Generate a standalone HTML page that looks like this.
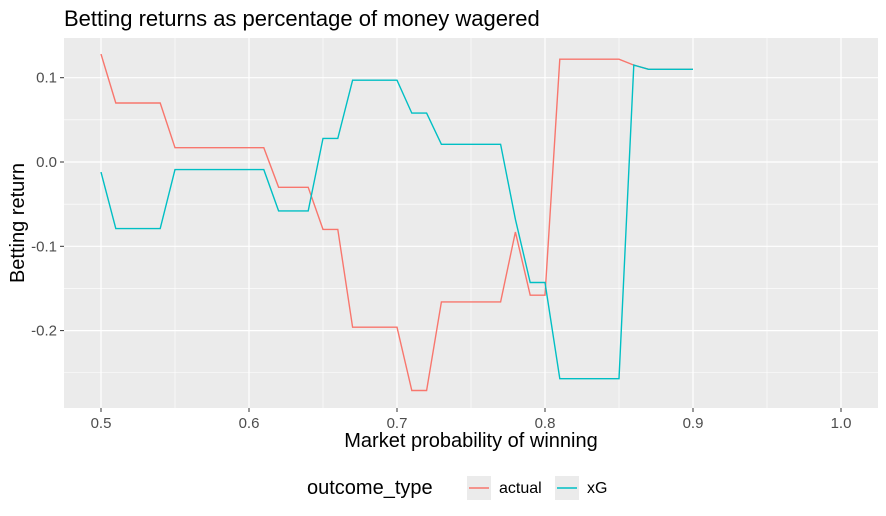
<!DOCTYPE html>
<html><head><meta charset="utf-8"><style>
body{margin:0;background:#fff;}
svg text{font-family:"Liberation Sans",Arial,sans-serif;}
</style></head><body>
<svg id="chart" width="886" height="511" xmlns="http://www.w3.org/2000/svg">
<text x="64" y="26" font-size="22" fill="#000">Betting returns as percentage of money wagered</text>
<rect x="64" y="38" width="814" height="370" fill="#ebebeb"/>
<g id="grid"></g>
<g id="lines"></g>
<g id="axes"></g>
<text x="471" y="447" font-size="20" text-anchor="middle" fill="#000">Market probability of winning</text>
<text transform="translate(24,223) rotate(-90)" font-size="20" text-anchor="middle" fill="#000">Betting return</text>
<g>
<text x="307" y="494" font-size="20" fill="#000">outcome_type</text>
<rect x="467" y="476" width="24" height="24" fill="#ebebeb"/>
<line x1="469" y1="488" x2="489" y2="488" stroke="#f8766d" stroke-width="1.5"/>
<text x="499" y="493" font-size="16" fill="#000">actual</text>
<rect x="555" y="476" width="24" height="24" fill="#ebebeb"/>
<line x1="557" y1="488" x2="577" y2="488" stroke="#00bfc4" stroke-width="1.5"/>
<text x="587" y="493" font-size="16" fill="#000">xG</text>
</g>
</svg>
<script>
const xValues=[0.50,0.51,0.52,0.53,0.54,0.55,0.56,0.57,0.58,0.59,0.60,0.61,0.62,0.63,0.64,0.65,0.66,0.67,0.68,0.69,0.70,0.71,0.72,0.73,0.74,0.75,0.76,0.77,0.78,0.79,0.80,0.81,0.82,0.83,0.84,0.85,0.86,0.87,0.88,0.89,0.90];
const actualValues=[0.128,0.070,0.070,0.070,0.070,0.017,0.017,0.017,0.017,0.017,0.017,0.017,-0.030,-0.030,-0.030,-0.080,-0.080,-0.196,-0.196,-0.196,-0.196,-0.271,-0.271,-0.166,-0.166,-0.166,-0.166,-0.166,-0.083,-0.158,-0.158,0.122,0.122,0.122,0.122,0.122,0.115,0.110,0.110,0.110,0.110];
const xgValues=[-0.012,-0.079,-0.079,-0.079,-0.079,-0.009,-0.009,-0.009,-0.009,-0.009,-0.009,-0.009,-0.058,-0.058,-0.058,0.028,0.028,0.097,0.097,0.097,0.097,0.058,0.058,0.021,0.021,0.021,0.021,0.021,-0.068,-0.143,-0.143,-0.257,-0.257,-0.257,-0.257,-0.257,0.115,0.110,0.110,0.110,0.110];
const xTicks=[0.5,0.6,0.7,0.8,0.9,1.0];
const xTickLabels=["0.5","0.6","0.7","0.8","0.9","1.0"];
const yTicks=[0.1,0.0,-0.1,-0.2];
const yTickLabels=["0.1","0.0","-0.1","-0.2"];
const xMinor=[0.55,0.65,0.75,0.85,0.95];
const yMinor=[0.05,-0.05,-0.15,-0.25];
const NS="http://www.w3.org/2000/svg";
const sx=v=>101+(v-0.5)*1480;
const sy=v=>162-v*843;
const grid=document.getElementById('grid'),lines=document.getElementById('lines'),axes=document.getElementById('axes');
function mk(t,a,p){const e=document.createElementNS(NS,t);for(const k in a)e.setAttribute(k,a[k]);p.appendChild(e);return e;}
xMinor.forEach(v=>{const e=mk('line',{x1:sx(v),x2:sx(v),y1:38,y2:408,stroke:'#fff','stroke-width':0.6},grid);

});
yMinor.forEach(v=>{const e=mk('line',{x1:64,x2:878,y1:sy(v),y2:sy(v),stroke:'#fff','stroke-width':0.6},grid);

});
xTicks.forEach((v,i)=>{const e=mk('line',{x1:sx(v),x2:sx(v),y1:38,y2:408,stroke:'#fff','stroke-width':1.2},grid);


const tk=mk('line',{x1:sx(v),x2:sx(v),y1:408,y2:412,stroke:'#333','stroke-width':1},axes);


const t=mk('text',{x:sx(v),y:428,'font-size':15,'text-anchor':'middle',fill:'#4d4d4d'},axes);t.textContent=xTickLabels[i];

});
yTicks.forEach((v,i)=>{const e=mk('line',{x1:64,x2:878,y1:sy(v),y2:sy(v),stroke:'#fff','stroke-width':1.2},grid);


const tk=mk('line',{x1:60,x2:64,y1:sy(v),y2:sy(v),stroke:'#333','stroke-width':1},axes);


const t=mk('text',{x:57,y:sy(v)+5,'font-size':15,'text-anchor':'end',fill:'#4d4d4d'},axes);t.textContent=yTickLabels[i];

});
function path(vals,color,name){const d=vals.map((v,i)=>(i?'L':'M')+sx(xValues[i]).toFixed(1)+','+sy(v).toFixed(1)).join(' ');
const p=mk('path',{d:d,fill:'none',stroke:color,'stroke-width':1.4},lines);

}
path(actualValues,'#f8766d','actual-line');
path(xgValues,'#00bfc4','xg-line');
</script>
</body></html>
